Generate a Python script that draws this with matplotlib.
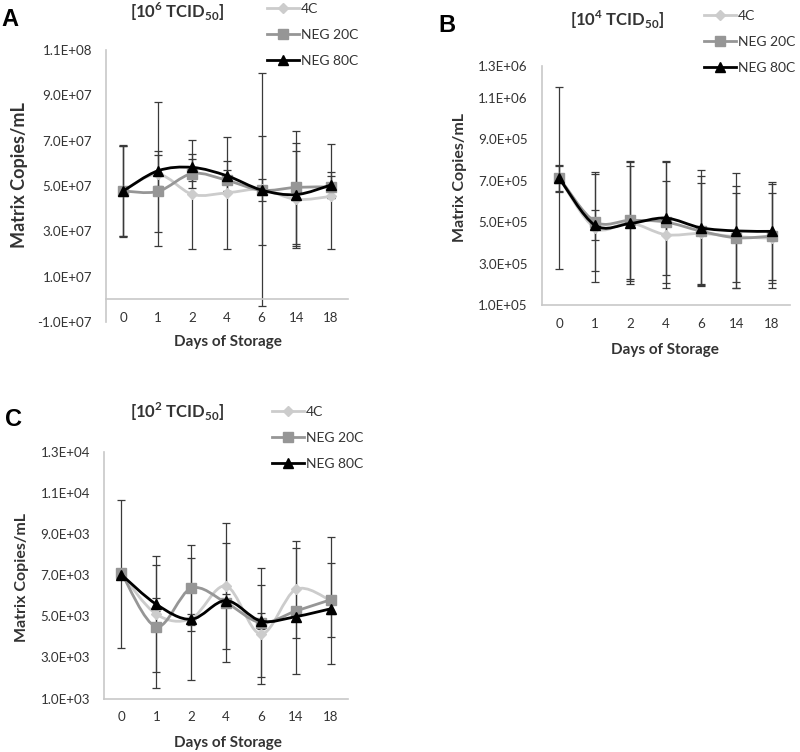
import matplotlib
matplotlib.use("Agg")
import matplotlib.pyplot as plt
from matplotlib.path import Path
from matplotlib.patches import PathPatch
from matplotlib.lines import Line2D
import numpy as np

plt.rcParams['font.family'] = ['Lato', 'DejaVu Sans']
plt.rcParams['mathtext.fontset'] = 'custom'
plt.rcParams['mathtext.rm'] = 'Lato'
plt.rcParams['mathtext.bf'] = 'Lato:bold'

days = ["0", "1", "2", "4", "6", "14", "18"]
series_names = ["4C", "NEG 20C", "NEG 80C"]

# Panel A  [10^6 TCID50]
a_4c = [4.79e7, 5.52e7, 4.63e7, 4.70e7, 4.85e7, 4.41e7, 4.54e7]
a_4c_err = [2.03e7, 3.18e7, 2.41e7, 2.48e7, 5.15e7, 2.14e7, 2.32e7]
a_20c = [4.78e7, 4.76e7, 5.55e7, 5.25e7, 4.81e7, 4.94e7, 4.96e7]
a_20c_err = [2.0e7, 1.8e7, 0.62e7, 0.47e7, 2.4e7, 2.5e7, 0.49e7]
a_80c = [4.78e7, 5.67e7, 5.82e7, 5.45e7, 4.82e7, 4.62e7, 5.04e7]
a_80c_err = [2.0e7, 0.68e7, 0.58e7, 0.67e7, 0.5e7, 2.28e7, 0.56e7]
a_yticks = [-1e7, 1e7, 3e7, 5e7, 7e7, 9e7, 1.1e8]
a_yticklabels = ["-1.0E+07", "1.0E+07", "3.0E+07", "5.0E+07", "7.0E+07", "9.0E+07", "1.1E+08"]

# Panel B  [10^4 TCID50]
b_4c = [7.12e5, 4.72e5, 4.95e5, 4.39e5, 4.45e5, 4.29e5, 4.22e5]
b_4c_err = [4.37e5, 2.6e5, 2.93e5, 2.57e5, 2.42e5, 2.45e5, 2.17e5]
b_20c = [7.12e5, 5.02e5, 5.08e5, 5.0e5, 4.56e5, 4.24e5, 4.32e5]
b_20c_err = [0.65e5, 2.4e5, 2.85e5, 2.95e5, 2.64e5, 2.15e5, 2.5e5]
b_80c = [7.10e5, 4.85e5, 4.93e5, 5.19e5, 4.72e5, 4.57e5, 4.55e5]
b_80c_err = [0.6e5, 0.71e5, 2.75e5, 2.72e5, 2.78e5, 2.77e5, 2.36e5]
b_yticks = [1e5, 3e5, 5e5, 7e5, 9e5, 1.1e6, 1.25e6]
b_yticklabels = ["1.0E+05", "3.0E+05", "5.0E+05", "7.0E+05", "9.0E+05", "1.1E+06", "1.3E+06"]

# Panel C  [10^2 TCID50]
c_4c = [7.06e3, 5.10e3, 4.88e3, 6.47e3, 4.13e3, 6.30e3, 5.77e3]
c_4c_err = [3.6e3, 2.82e3, 2.96e3, 3.08e3, 2.41e3, 2.35e3, 3.1e3]
c_20c = [7.10e3, 4.49e3, 6.36e3, 5.66e3, 4.69e3, 5.25e3, 5.80e3]
c_20c_err = [0.22e3, 3.0e3, 2.1e3, 2.9e3, 2.64e3, 3.05e3, 1.8e3]
c_80c = [7.02e3, 5.58e3, 4.85e3, 5.76e3, 4.77e3, 4.98e3, 5.36e3]
c_80c_err = [0.2e3, 0.33e3, 0.27e3, 0.3e3, 0.38e3, 0.15e3, 0.25e3]
c_yticks = [1e3, 3e3, 5e3, 7e3, 9e3, 1.1e4, 1.3e4]
c_yticklabels = ["1.0E+03", "3.0E+03", "5.0E+03", "7.0E+03", "9.0E+03", "1.1E+04", "1.3E+04"]

colors = ["#cccccc", "#969696", "#000000"]
markers = ["D", "s", "^"]
msizes = [5, 7.5, 7.5]
TXT = "#333333"
AXC = "#c8c8c8"
ERRC = "#3a3a3a"


def smooth_path(x, y):
    pts = np.column_stack([x, y]).astype(float)
    n = len(pts)
    verts = [pts[0]]
    codes = [Path.MOVETO]
    for i in range(n - 1):
        p0 = pts[i - 1] if i > 0 else pts[i]
        p1 = pts[i]
        p2 = pts[i + 1]
        p3 = pts[i + 2] if i + 2 < n else pts[i + 1]
        c1 = p1 + (p2 - p0) / 6.0
        c2 = p2 - (p3 - p1) / 6.0
        verts += [c1, c2, p2]
        codes += [Path.CURVE4] * 3
    return Path(verts, codes)


fig = plt.figure(figsize=(8, 7.52), dpi=100)
W, H = 800, 752


def fx(px):
    return px / W


def fy(py):
    return 1 - py / H


def panel(rect_px, ylim, yticks, yticklabels, data, errs, title, title_xy,
          letter, letter_xy, leg_xy, ylab_xy, xlab_xy, ylab_size, zero_axis=False):
    l, t, r, b = rect_px
    ax = fig.add_axes([fx(l), fy(b), fx(r) - fx(l), fy(t) - fy(b)])
    x = np.arange(len(days))
    for k in range(3):
        ax.errorbar(x, data[k], yerr=errs[k], fmt='none', ecolor=ERRC,
                    elinewidth=0.9, capsize=3.0, capthick=0.9, zorder=2)
    for k in range(3):
        patch = PathPatch(smooth_path(x, data[k]), fill=False, edgecolor=colors[k],
                          lw=2.0, zorder=3 + k, capstyle='round', joinstyle='round')
        ax.add_patch(patch)
        ax.plot(x, data[k], linestyle='none', marker=markers[k], ms=msizes[k],
                color=colors[k], zorder=3 + k)
    ax.set_xlim(-0.5, len(days) - 0.5)
    ax.set_ylim(*ylim)
    ax.set_yticks(yticks)
    ax.set_yticklabels(yticklabels)
    ax.set_xticks(x)
    ax.set_xticklabels(days)
    for s in ['top', 'right']:
        ax.spines[s].set_visible(False)
    for s in ['left', 'bottom']:
        ax.spines[s].set_color(AXC)
        ax.spines[s].set_linewidth(1.2)
    if zero_axis:
        ax.spines['bottom'].set_position(('data', 0))
    ax.tick_params(axis='both', length=0, labelsize=9.6, colors=TXT)
    ax.tick_params(axis='y', pad=10)
    ax.tick_params(axis='x', pad=9)
    ax.set_ylabel("Matrix Copies/mL", fontsize=ylab_size, fontweight='bold', color=TXT, va='center')
    ax.yaxis.set_label_coords(fx(ylab_xy[0]), fy(ylab_xy[1]), transform=fig.transFigure)
    ax.set_xlabel("Days of Storage", fontsize=11, fontweight='bold', color=TXT, va='center')
    ax.xaxis.set_label_coords(fx(xlab_xy[0]), fy(xlab_xy[1]), transform=fig.transFigure)
    fig.text(fx(title_xy[0]), fy(title_xy[1]), title, fontsize=12, fontweight='bold',
             color=TXT, ha='center', va='center')
    fig.text(fx(letter_xy[0]), fy(letter_xy[1]), letter, fontsize=17, fontweight='bold',
             family='Liberation Sans', color='black', ha='center', va='center')
    handles = [Line2D([], [], color=colors[k], lw=2.0, marker=markers[k], ms=msizes[k])
               for k in range(3)]
    ax.legend(handles, series_names, loc='upper left',
              bbox_to_anchor=(fx(leg_xy[0]), fy(leg_xy[1])),
              bbox_transform=fig.transFigure, frameon=False, fontsize=10,
              handlelength=2.3, handletextpad=0.15, labelspacing=1.0,
              borderpad=0, borderaxespad=0, labelcolor=TXT)
    return ax


panel((106, 50, 348, 322), (-1e7, 1.1e8), a_yticks, a_yticklabels,
      [a_4c, a_20c, a_80c], [a_4c_err, a_20c_err, a_80c_err],
      r"[10$^{\mathbf{6}}$ TCID$_{\mathbf{50}}$]", (177, 12),
      "A", (10, 20), (267, 3), (20, 175), (228, 342), 13, zero_axis=True)

panel((541.7, 66.4, 789.5, 305), (1e5, 1.25e6), b_yticks, b_yticklabels,
      [b_4c, b_20c, b_80c], [b_4c_err, b_20c_err, b_80c_err],
      r"[10$^{\mathbf{4}}$ TCID$_{\mathbf{50}}$]", (617, 20),
      "B", (447, 25), (704, 10), (460, 177), (665, 350), 11.5)

panel((104, 451.7, 348, 698.5), (1e3, 1.3e4), c_yticks, c_yticklabels,
      [c_4c, c_20c, c_80c], [c_4c_err, c_20c_err, c_80c_err],
      r"[10$^{\mathbf{2}}$ TCID$_{\mathbf{50}}$]", (177, 412),
      "C", (13, 420), (272, 406), (22, 577), (228, 743), 11.5)

fig.savefig("out.png", dpi=100)
